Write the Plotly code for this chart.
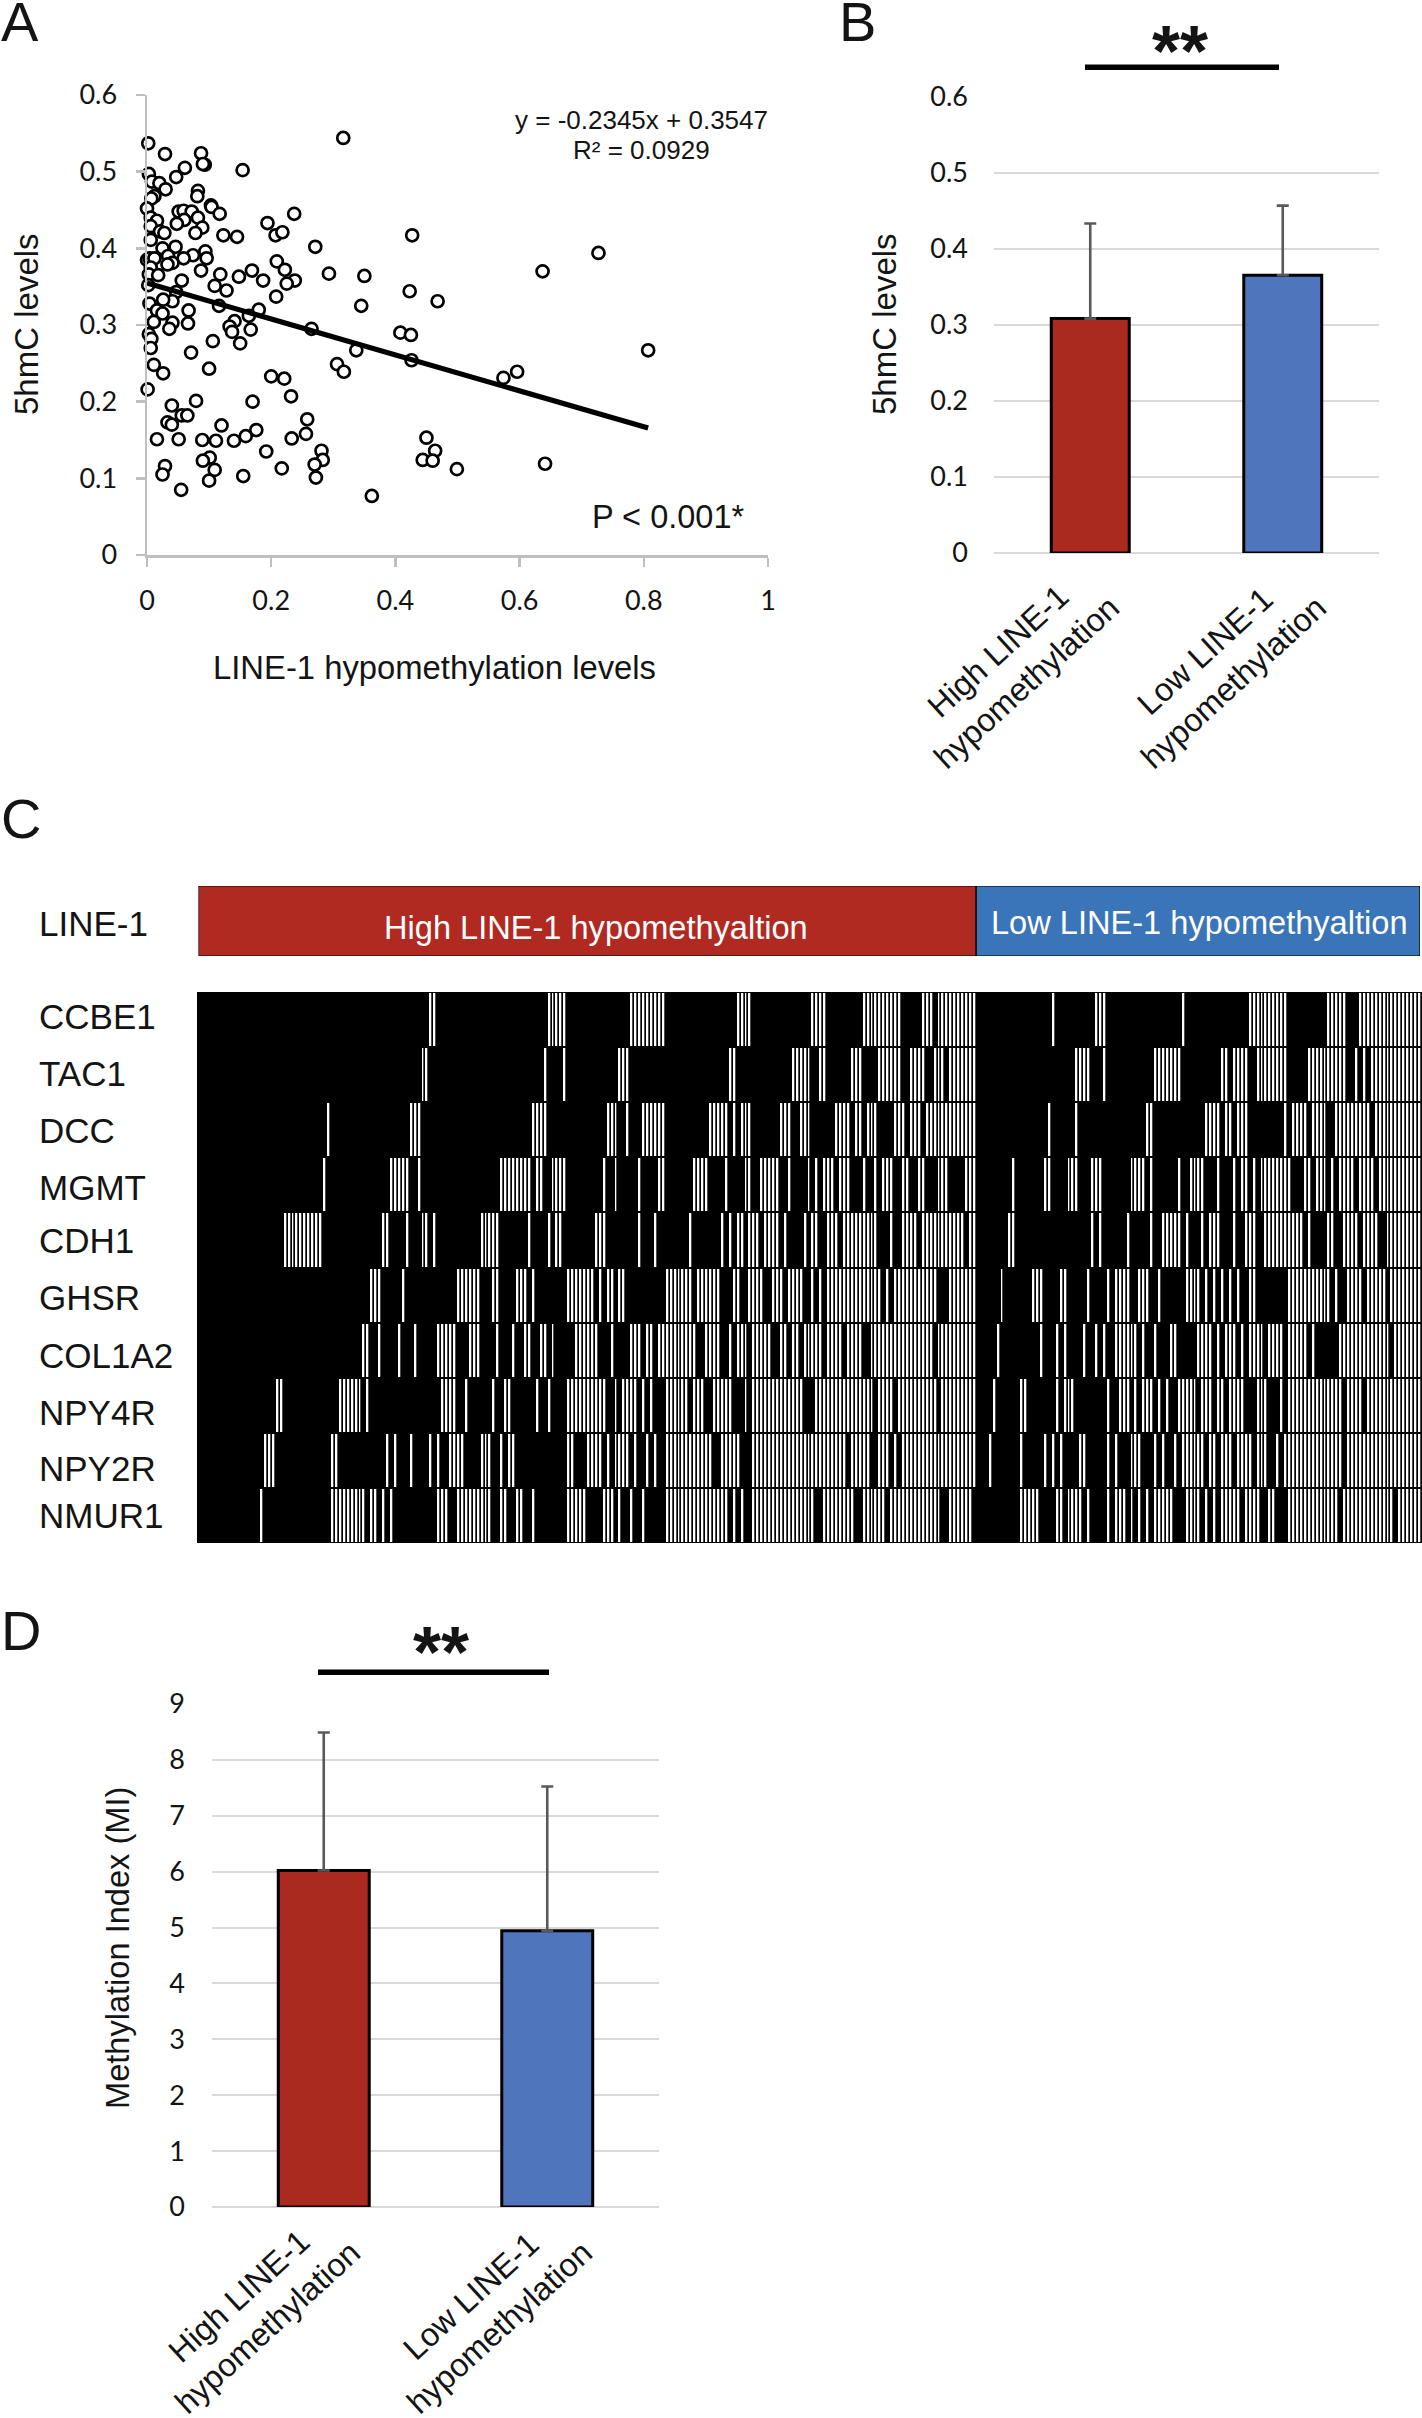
import plotly.graph_objects as go

W, H = 1422, 2418
SANS = "Liberation Sans"
TICK = "Lato"
INK = "#141414"
RED = "#AB2A20"
BLUE = "#4F75BC"
BAND_RED = "#B02A22"
BAND_BLUE = "#3A74B9"
GRID = "#d9d9d9"

# Panel A
SCAT_X = [.002,.029,.087,.093,.09,.061,.154,.316,.003,.047,.008,.02,.03,.082,.081,.012,.007,0,.103,.104,
          .051,.059,.072,.117,.237,.006,.016,.06,.082,.006,.048,.089,.194,.021,.028,.078,.207,.218,.123,.145,
          .427,.006,.025,.046,.271,.727,.094,.074,0,.004,.012,.059,.034,.096,.209,.041,.033,.006,.087,.169,
          .222,.637,.003,.018,.118,.148,.293,.35,.056,.187,.238,.225,.002,.109,.128,.047,.423,.208,.041,.026,
          .468,.004,.116,.345,.067,.18,.016,.025,.164,.011,.041,.066,.141,.133,.036,.265,.167,.137,.003,.408,
          .425,.007,.106,.15,.006,.337,.807,.071,.426,.306,.011,.1,.317,.596,.026,.2,.221,.574,.001,.232,
          .079,.17,.04,.056,.065,.258,.033,.04,.12,.176,.256,.159,.45,.016,.051,.089,.111,.14,.233,.281,
          .192,.464,.101,.09,.283,.444,.46,.27,.641,.029,.217,.499,.109,.025,.155,.272,.1,.055,.362]
SCAT_Y = [.537,.523,.524,.509,.51,.505,.502,.544,.497,.493,.487,.485,.477,.475,.468,.468,.465,.452,.456,.454,
          .448,.449,.448,.445,.445,.44,.436,.437,.44,.429,.432,.427,.433,.422,.42,.42,.417,.421,.417,.415,
          .417,.411,.4,.402,.402,.394,.396,.391,.385,.387,.387,.387,.39,.387,.383,.381,.379,.375,.371,.371,
          .372,.37,.366,.365,.366,.363,.367,.364,.358,.358,.358,.354,.352,.351,.345,.343,.344,.337,.331,.333,
          .331,.328,.325,.325,.319,.32,.319,.315,.312,.304,.303,.302,.305,.298,.295,.295,.294,.291,.288,.29,
          .287,.282,.279,.276,.27,.267,.267,.264,.254,.249,.248,.243,.239,.239,.237,.233,.23,.231,.216,.207,
          .201,.2,.195,.182,.182,.177,.173,.17,.169,.163,.158,.155,.153,.151,.151,.15,.149,.149,.152,.136,
          .135,.136,.127,.123,.124,.124,.123,.118,.119,.116,.113,.112,.111,.105,.103,.101,.097,.085,.077]
TREND_X = [0, 0.807]
TREND_Y = [0.3547, 0.1655]
A_XTICKS = [0, 0.2, 0.4, 0.6, 0.8, 1]
A_YTICKS = [0, 0.1, 0.2, 0.3, 0.4, 0.5, 0.6]

# Panels B, D
CATS = ["High LINE-1<br>hypomethylation", "Low LINE-1<br>hypomethylation"]
B_VALUES = [0.308, 0.365]
B_ERRORS = [0.125, 0.0915]
D_VALUES = [6.02, 4.945]
D_ERRORS = [2.47, 2.58]
BAR_COLORS = [RED, BLUE]
D_YTICKS = [0, 1, 2, 3, 4, 5, 6, 7, 8, 9]

# Panel C
GROUP_NAMES = ["High LINE-1 hypomethyaltion", "Low LINE-1 hypomethyaltion"]
GROUP_SIZES = [198, 113]
GENES = ["CCBE1", "TAC1", "DCC", "MGMT", "CDH1", "GHSR", "COL1A2", "NPY4R", "NPY2R", "NMUR1"]
CCBE1 = [(59,60),(89,93),(110,118),(137,140),(156,159),(169,178),(184,186),(188,197),(217,217),(228,230),
         (250,250),(267,276),(287,291),(295,310)]
TAC1 = [(57,58),(88,88),(93,93),(107,109),(135,136),(151,155),(158,159),(166,168),(173,178),(181,184),(187,189),
        (191,197),(223,226),(230,230),(243,249),(260,261),(263,266),(269,276),(282,291),(294,294),(296,296),(298,310)]
DCC = [(33,33),(54,56),(85,88),(104,106),(109,109),(113,118),(130,134),(136,136),(138,140),(148,150),(153,155),
       (162,165),(167,168),(170,172),(177,179),(181,183),(185,197),(216,216),(223,223),(241,242),(256,259),
       (261,262),(264,266),(276,276),(278,281),(283,286),(289,297),(299,310)]
MGMT = [(32,32),(49,53),(56,56),(77,84),(86,87),(90,93),(103,103),(106,106),(112,112),(117,118),(126,129),
        (134,134),(139,140),(143,147),(150,150),(155,155),(157,157),(159,161),(163,165),(169,169),(172,172),
        (174,176),(179,180),(183,184),(188,190),(195,197),(207,207),(215,216),(221,223),(227,229),(237,240),
        (242,242),(249,249),(252,255),(259,259),(263,263),(265,266),(268,268),(270,277),(281,282),(284,286),
        (288,288),(290,293),(295,298),(300,310)]
CDH1 = [(22,31),(47,48),(53,53),(57,58),(60,60),(72,76),(84,84),(89,89),(91,92),(101,103),(112,112),(116,116),
        (125,125),(133,133),(135,135),(137,138),(140,142),(144,147),(149,149),(154,154),(156,157),(160,162),
        (164,172),(176,176),(179,182),(184,194),(196,197),(206,207),(227,227),(229,229),(236,236),(242,242),
        (245,249),(251,251),(255,255),(257,259),(263,263),(266,268),(271,280),(282,282),(287,288),(291,294),
        (296,299),(302,310)]
GHSR = [(44,46),(52,52),(66,71),(75,76),(81,83),(85,85),(94,100),(102,102),(104,105),(107,108),(119,125),(127,132),
        (136,137),(140,143),(146,148),(150,153),(156,156),(158,158),(160,173),(175,175),(177,187),(191,197),
        (204,204),(212,214),(219,220),(226,226),(231,231),(233,236),(239,241),(244,244),(251,254),(256,256),
        (258,258),(260,260),(262,262),(264,264),(267,268),(277,287),(289,289),(292,295),(297,301),(303,310)]
COL1A2 = [(42,43),(46,46),(51,51),(55,55),(61,65),(69,71),(76,76),(80,80),(83,84),(87,88),(90,90),(96,101),(105,105),
          (110,112),(114,115),(117,126),(129,132),(135,135),(137,139),(141,145),(148,149),(151,152),(154,158),
          (160,163),(165,168),(171,186),(188,197),(203,203),(214,214),(218,218),(220,220),(225,225),(228,228),
          (230,230),(233,238),(240,240),(243,243),(247,248),(254,257),(259,259),(261,263),(265,265),(267,270),
          (272,275),(277,281),(283,283),(290,302),(304,310)]
NPY4R = [(20,21),(36,41),(43,43),(62,65),(68,68),(75,75),(78,79),(86,86),(89,89),(94,103),(106,106),(108,111),
         (113,113),(115,115),(119,124),(126,128),(131,135),(139,139),(141,153),(157,171),(173,176),(178,187),
         (189,197),(202,202),(209,210),(218,218),(220,222),(231,231),(234,236),(238,238),(240,242),(244,244),
         (246,246),(249,253),(255,257),(259,260),(262,265),(269,271),(275,275),(277,290),(292,295),(297,310)]
NPY2R = [(17,19),(34,35),(48,48),(50,50),(54,54),(59,59),(61,61),(64,67),(72,74),(77,77),(79,80),(94,95),(99,102),
         (104,104),(106,109),(111,111),(114,114),(116,116),(119,130),(133,137),(141,164),(166,170),(173,175),
         (177,177),(179,197),(201,201),(209,209),(215,215),(217,217),(219,219),(224,225),(231,231),(233,233),
         (237,239),(243,243),(245,245),(248,248),(250,255),(257,258),(260,262),(264,267),(269,271),(274,274),
         (276,290),(292,310)]
NMUR1 = [(16,16),(34,42),(44,45),(47,47),(49,49),(61,63),(66,74),(77,78),(81,82),(85,85),(94,98),(103,105),(107,107),
         (110,110),(113,113),(119,134),(136,136),(138,138),(141,156),(159,166),(169,174),(176,188),(191,196),
         (209,213),(218,219),(221,224),(226,226),(231,231),(233,235),(237,237),(239,239),(241,241),(243,247),
         (251,254),(256,256),(258,258),(260,264),(266,269),(272,273),(277,289),(291,303),(305,310)]
GENE_RUNS = [CCBE1, TAC1, DCC, MGMT, CDH1, GHSR, COL1A2, NPY4R, NPY2R, NMUR1]
GENE_LABEL_Y = [1017, 1073, 1130, 1187, 1240, 1297, 1355.5, 1412, 1468, 1515]

n_cols = sum(GROUP_SIZES)
matrix = []
for runs in GENE_RUNS:
    row = [0] * n_cols
    for a, b in runs:
        for c in range(a, b + 1):
            row[c] = 1
    matrix.append(row)


def fx(p):
    return p / W


def fy(p):
    return 1 - p / H


def dom_x(a, b):
    return [fx(a), fx(b)]


def dom_y(top, bottom):
    return [fy(bottom), fy(top)]


fig = go.Figure()

# A
fig.add_trace(go.Scatter(x=SCAT_X, y=SCAT_Y, mode="markers", xaxis="x", yaxis="y", hoverinfo="skip", cliponaxis=False,
                         marker=dict(size=12, color="white", line=dict(color="black", width=2.7))))
fig.add_trace(go.Scatter(x=TREND_X, y=TREND_Y, mode="lines", xaxis="x", yaxis="y", hoverinfo="skip",
                         line=dict(color="black", width=5.2)))
# B
fig.add_trace(go.Bar(x=CATS, y=B_VALUES, xaxis="x2", yaxis="y2", width=0.405, hoverinfo="skip",
                     marker=dict(color=BAR_COLORS, line=dict(color="black", width=3)),
                     error_y=dict(type="data", symmetric=False, array=B_ERRORS, arrayminus=[0, 0],
                                  color="#595959", thickness=2.6, width=6)))
# D
fig.add_trace(go.Bar(x=CATS, y=D_VALUES, xaxis="x3", yaxis="y3", width=0.407, hoverinfo="skip",
                     marker=dict(color=BAR_COLORS, line=dict(color="black", width=3)),
                     error_y=dict(type="data", symmetric=False, array=D_ERRORS, arrayminus=[0, 0],
                                  color="#595959", thickness=2.6, width=6)))
# C heat
fig.add_trace(go.Heatmap(z=matrix, xaxis="x4", yaxis="y4", colorscale=[[0, "black"], [1, "white"]],
                         zmin=0, zmax=1, showscale=False, xgap=1.7, ygap=2, hoverinfo="skip"))
# C band
for name, size, col, base in zip(GROUP_NAMES, GROUP_SIZES, [BAND_RED, BAND_BLUE], [0, GROUP_SIZES[0]]):
    fig.add_trace(go.Bar(x=[size], y=["LINE-1"], base=[base], orientation="h", xaxis="x5", yaxis="y5", width=1,
                         hoverinfo="skip", marker=dict(color=col, line=dict(color="black", width=1.2))))

tickfont = dict(family=TICK, size=27, color=INK)
hidden = dict(showgrid=False, zeroline=False, showticklabels=False, ticks="", showline=False)


def bar_y(top, bottom, rng, vals, standoff):
    return dict(domain=dom_y(top, bottom), range=rng, tickvals=vals, tickfont=tickfont, showgrid=True,
                gridcolor=GRID, gridwidth=2, zeroline=True, zerolinecolor=GRID, zerolinewidth=2, showline=False,
                ticks="", ticklabelstandoff=standoff)


layout = dict(
    width=W, height=H, margin=dict(l=0, r=0, t=0, b=0, pad=0, autoexpand=False), autosize=False, showlegend=False,
    paper_bgcolor="white", plot_bgcolor="rgba(0,0,0,0)", barmode="overlay", font=dict(family=SANS, color=INK),
    xaxis=dict(domain=dom_x(147, 768), range=[0, 1], tickvals=A_XTICKS, tickfont=tickfont, showgrid=False,
               zeroline=False, showline=True, linecolor="#bfbfbf", linewidth=2.5, ticks="outside", ticklen=9,
               tickwidth=2.5, tickcolor="#bfbfbf", anchor="y", ticklabelstandoff=11),
    yaxis=dict(domain=dom_y(95, 555), range=[0, 0.6], tickvals=A_YTICKS, tickfont=tickfont, showgrid=False,
               zeroline=False, showline=True, linecolor="#bfbfbf", linewidth=2.5, ticks="outside", ticklen=9,
               tickwidth=2.5, tickcolor="#bfbfbf", anchor="x", ticklabelstandoff=13),
    xaxis2=dict(domain=dom_x(994, 1379), anchor="y2", type="category", categoryorder="array", categoryarray=CATS,
                **hidden),
    yaxis2=dict(anchor="x2", **bar_y(96.4, 553, [0, 0.6], A_YTICKS, 25)),
    xaxis3=dict(domain=dom_x(212, 659), anchor="y3", type="category", categoryorder="array", categoryarray=CATS,
                **hidden),
    yaxis3=dict(anchor="x3", **bar_y(1704, 2207, [0, 9], D_YTICKS, 26)),
    xaxis4=dict(domain=dom_x(197, 1422), anchor="y4", range=[-0.5, n_cols - 0.5], **hidden),
    yaxis4=dict(domain=dom_y(992, 1543), anchor="x4", range=[len(GENES) - 0.5, -0.5], **hidden),
    xaxis5=dict(domain=dom_x(198.5, 1420), anchor="y5", range=[0, n_cols], **hidden),
    yaxis5=dict(domain=dom_y(886, 956), anchor="x5", type="category", range=[-0.5, 0.5], **hidden),
)

shapes = [
    dict(type="rect", xref="paper", yref="paper", x0=fx(197), x1=fx(1422), y0=fy(1543), y1=fy(992),
         fillcolor="black", line=dict(width=0), layer="below"),
    dict(type="rect", xref="paper", yref="paper", x0=fx(1085), x1=fx(1279), y0=fy(70), y1=fy(64.5),
         fillcolor="black", line=dict(width=0)),
    dict(type="rect", xref="paper", yref="paper", x0=fx(318), x1=fx(549), y0=fy(1675), y1=fy(1669.5),
         fillcolor="black", line=dict(width=0)),
]


def note(text, x, y, size, anchor="center", color=INK, angle=0, weight=None, align="center"):
    font = dict(family=SANS, size=size, color=color)
    if weight:
        font["weight"] = weight
    return dict(text=text, xref="paper", yref="paper", x=fx(x), y=fy(y), xanchor=anchor, yanchor="middle",
                showarrow=False, font=font, textangle=angle, align=align, borderpad=0)


notes = [
    note("A", 0, 22, 56, "left"), note("B", 838, 22, 56, "left"),
    note("C", 0, 819, 56, "left"), note("D", 0, 1630, 56, "left"),
    note("y = -0.2345x + 0.3547", 641, 120, 26),
    note("R² = 0.0929", 641, 150, 26),
    note("P < 0.001*", 668, 517, 32.5),
    note("5hmC levels", 27, 324, 33, angle=-90),
    note("LINE-1 hypomethylation levels", 434, 667, 32.8),
    note("5hmC levels", 885, 324, 33, angle=-90),
    note("Methylation Index (MI)", 117, 1948, 32.6, angle=-90),
    note("**", 1180, 51, 72, weight="bold"),
    note("**", 441, 1652, 72, weight="bold"),
    note("LINE-1", 38, 923.5, 35, "left"),
    note(GROUP_NAMES[0], 596, 927, 32.6, color="white"),
    note(GROUP_NAMES[1], 1199, 922.5, 32.6, color="white"),
]
notes += [note(g, 38, y, 35, "left") for g, y in zip(GENES, GENE_LABEL_Y)]
for cat, (x, y) in zip(CATS, [(1012, 667), (1219, 667)]):
    notes.append(note(cat, x, y, 32.5, angle=-42.5))
for cat, (x, y) in zip(CATS, [(253, 2312), (485, 2312)]):
    notes.append(note(cat, x, y, 32.5, angle=-42.5))

fig.update_layout(**layout, shapes=shapes, annotations=notes)

fig.write_html("out.html", config=dict(displayModeBar=False, staticPlot=True),
               post_script="document.body.style.margin='0';document.body.style.overflow='hidden';")
